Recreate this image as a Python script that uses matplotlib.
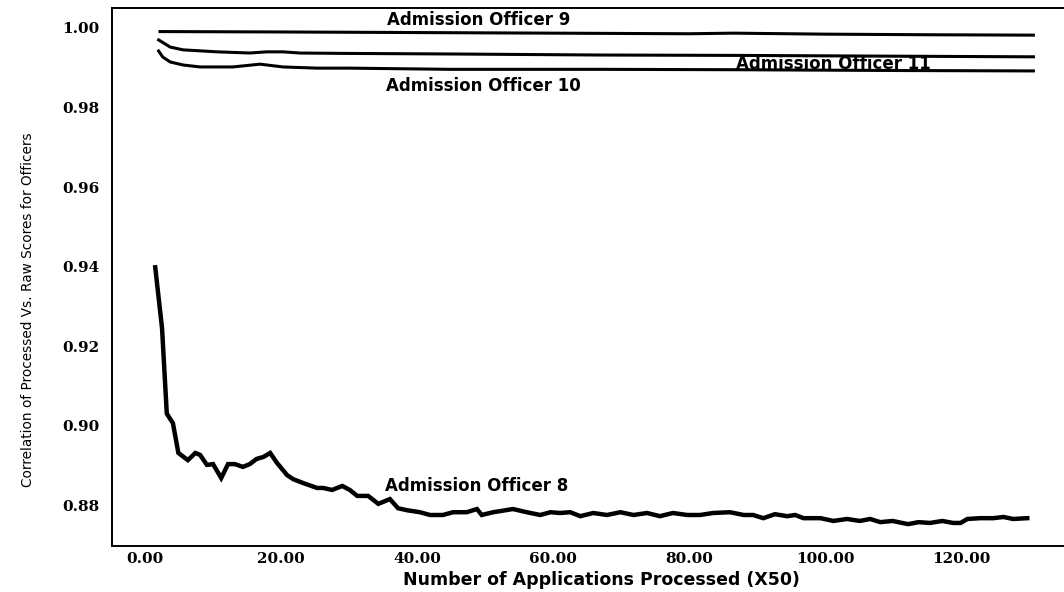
import matplotlib
matplotlib.use("Agg")
import matplotlib.pyplot as plt

# values
off8_x = [1.5, 2.5, 3.2, 4.1, 4.9, 6.3, 7.4, 8.1, 9.1, 10.0, 11.2, 12.2, 13.2, 14.4,
          15.4, 16.4, 17.4, 18.4, 19.4, 20.9, 21.8, 23.3, 25.3, 26.2, 27.5, 29.0, 30.1,
          31.2, 32.8, 34.3, 36.0, 37.2, 38.5, 40.4, 41.9, 43.8, 45.3, 47.3, 48.8, 49.5,
          51.2, 54.1, 56.1, 58.1, 59.6, 61.0, 62.5, 64.0, 65.9, 67.9, 69.9, 71.8, 73.8,
          75.7, 77.6, 79.7, 81.6, 83.5, 86.0, 88.0, 89.4, 90.9, 92.6, 94.4, 95.6, 96.8,
          99.3, 101.2, 103.2, 105.1, 106.6, 108.1, 109.9, 111.3, 112.2, 113.7, 115.4,
          117.2, 118.8, 119.9, 120.9, 122.8, 124.7, 126.2, 127.6, 129.7]
off8_y = [0.9398, 0.9245, 0.9030, 0.9006, 0.8931, 0.8913, 0.8931, 0.8926, 0.8901, 0.8903,
          0.8868, 0.8903, 0.8903, 0.8896, 0.8903, 0.8916, 0.8921, 0.8931, 0.8906, 0.8875,
          0.8865, 0.8855, 0.8843, 0.8843, 0.8838, 0.8848, 0.8838, 0.8823, 0.8823, 0.8803,
          0.8815, 0.8792, 0.8787, 0.8782, 0.8775, 0.8775, 0.8782, 0.8782, 0.8790, 0.8775,
          0.8782, 0.8790, 0.8782, 0.8775, 0.8782, 0.8780, 0.8782, 0.8772, 0.8780, 0.8775,
          0.8782, 0.8775, 0.8780, 0.8772, 0.8780, 0.8775, 0.8775, 0.8780, 0.8782, 0.8775,
          0.8775, 0.8767, 0.8777, 0.8772, 0.8775, 0.8767, 0.8767, 0.8760, 0.8765, 0.8760,
          0.8765, 0.8757, 0.8760, 0.8755, 0.8752, 0.8757, 0.8755, 0.8760, 0.8755, 0.8755,
          0.8765, 0.8767, 0.8767, 0.8770, 0.8765, 0.8767]

off9_x = [2.2, 20, 40, 60, 80, 86.5, 100, 115, 130.6]
off9_y = [0.9991, 0.9990, 0.99885, 0.9987, 0.99855, 0.9987, 0.99845, 0.9983, 0.9982]

off10_x = [2.0, 2.6, 3.7, 5.6, 8.1, 12.9, 16.9, 20.3, 25.3, 30, 45, 67, 87.5, 111, 130.6]
off10_y = [0.99421, 0.9927, 0.99145, 0.99069, 0.9902, 0.9902, 0.9909, 0.9902, 0.9899,
           0.9899, 0.9896, 0.9896, 0.9895, 0.9893, 0.9892]

off11_x = [2.0, 3.7, 5.6, 10.6, 15.4, 17.9, 20.3, 22.8, 30, 45, 67, 87.5, 111, 130.6]
off11_y = [0.9970, 0.9952, 0.9945, 0.9940, 0.99371, 0.9940, 0.9940, 0.9937, 0.9936,
           0.99346, 0.9932, 0.9931, 0.9929, 0.99275]

x_ticks = [0, 20, 40, 60, 80, 100, 120]
y_ticks = [0.88, 0.90, 0.92, 0.94, 0.96, 0.98, 1.00]

fig = plt.figure(figsize=(10.64, 5.92), dpi=100)
ax = fig.add_axes([0.1053, 0.0777, 0.8947, 0.9088])

ax.plot(off8_x, off8_y, color="black", lw=3.2, solid_joinstyle="miter")
ax.plot(off9_x, off9_y, color="black", lw=2.2)
ax.plot(off10_x, off10_y, color="black", lw=2.2)
ax.plot(off11_x, off11_y, color="black", lw=2.2)

ax.set_xlim(-4.85, 135.1)
ax.set_ylim(0.8697, 1.00503)

ax.set_xticks(x_ticks)
ax.set_xticklabels([f"{v:.2f}" for v in x_ticks])
ax.set_yticks(y_ticks)
ax.set_yticklabels([f"{v:.2f}" for v in y_ticks])
ax.tick_params(length=0)
ax.tick_params(axis="x", pad=4)
ax.tick_params(axis="y", pad=9)
for lab in ax.get_xticklabels() + ax.get_yticklabels():
    lab.set_fontfamily("DejaVu Serif")
    lab.set_fontweight("bold")
    lab.set_fontsize(11)

ax.spines["right"].set_visible(False)
for side in ["left", "top", "bottom"]:
    ax.spines[side].set_linewidth(1.4)

lab_kw = dict(fontsize=12, fontweight="bold", ha="center", va="center",
              family="DejaVu Sans")
ax.text(49, 1.0021, "Admission Officer 9", **lab_kw)
ax.text(101.2, 0.9909, "Admission Officer 11", **lab_kw)
ax.text(49.7, 0.9854, "Admission Officer 10", **lab_kw)
ax.text(48.7, 0.8848, "Admission Officer 8", **lab_kw)

ax.set_xlabel("Number of Applications Processed (X50)", fontsize=12.5,
              fontweight="bold")
ax.xaxis.set_label_coords(0.514, -0.047)
ax.set_ylabel("Correlation of Processed Vs. Raw Scores for Officers", fontsize=9.8,
              family="DejaVu Sans")
ax.yaxis.set_label_coords(-0.081, 0.44)

fig.savefig("out.png", dpi=100)
